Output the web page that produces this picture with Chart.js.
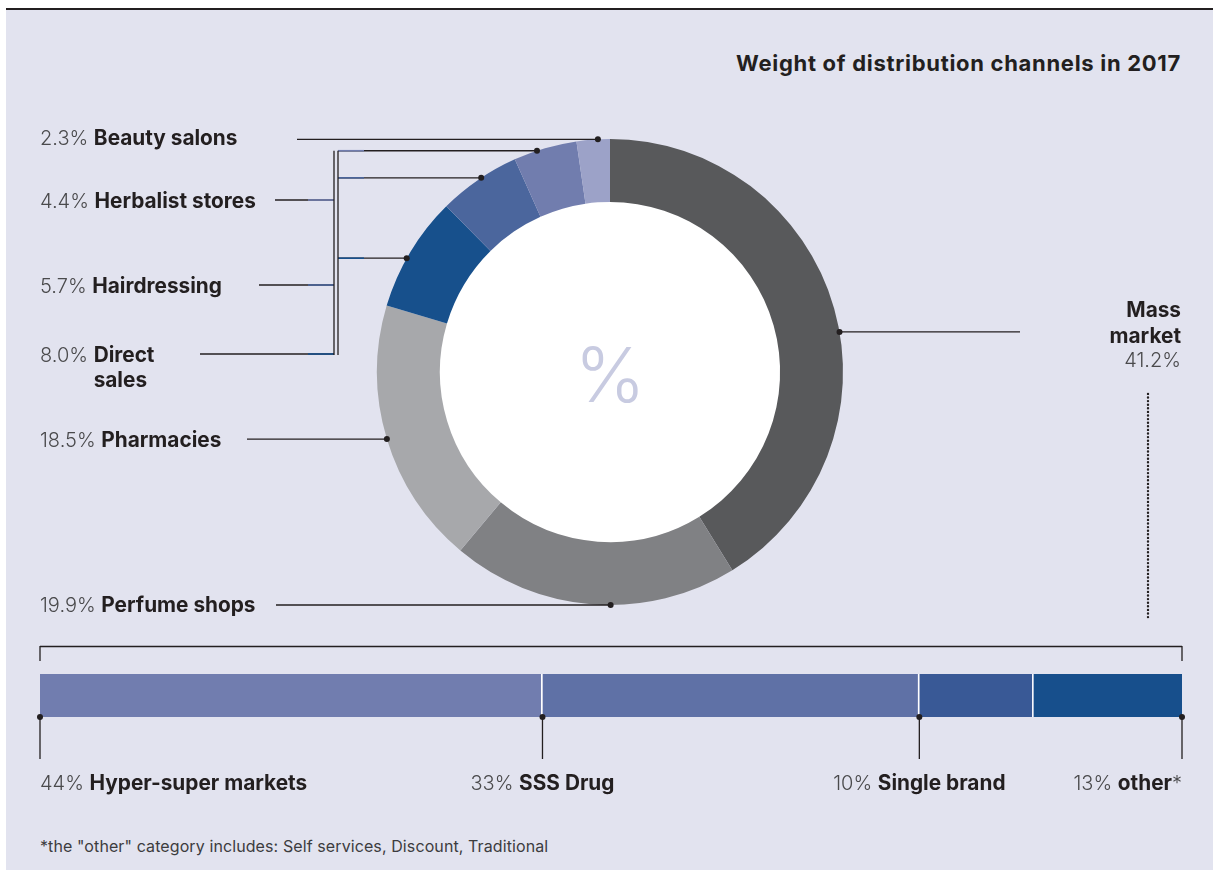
<!DOCTYPE html>
<html>
<head>
<meta charset="utf-8">
<script src="https://cdn.jsdelivr.net/npm/chart.js@4.4.1/dist/chart.umd.min.js"></script>
<style>
  body { margin: 0; background: #fff; width: 1213px; height: 870px; overflow: hidden; }
  #panel { position: absolute; left: 6px; top: 10px; width: 1207px; height: 860px; background: #e2e3ef; }
  #rule { position: absolute; left: 6px; top: 8px; width: 1207px; height: 2px; background: #231f20; }
  #title { position: absolute; right: 32px; top: 50px; line-height: 24px; font: 700 22px Inter, sans-serif; letter-spacing: 0.7px; color: #231f20; }
  #note { position: absolute; left: 40px; top: 836px; line-height: 20px; font: 400 16px Inter, sans-serif; letter-spacing: 0.1px; color: #3c3c3e; }
  #donut { position: absolute; left: 0; top: 0; }
  #bar { position: absolute; left: 0; top: 630px; }
</style>
</head>
<body>
<div id="panel"></div>
<div id="rule"></div>
<div id="title">Weight of distribution channels in 2017</div>
<canvas id="donut" width="1213" height="630"></canvas>
<canvas id="bar" width="1213" height="180"></canvas>
<div id="note">*the "other" category includes: Self services, Discount, Traditional</div>

<script>
// channel weights, clockwise from 12 o'clock
const channels = ['Mass market', 'Perfume shops', 'Pharmacies', 'Direct sales', 'Hairdressing', 'Herbalist stores', 'Beauty salons'];
const channelShares = [41.2, 19.9, 18.5, 8.0, 5.7, 4.4, 2.3];
const channelColors = ['#58595b', '#808184', '#a7a8ab', '#17508c', '#4b669d', '#717dae', '#9ca2c8'];

// split of the mass market channel
const outlets = ['Hyper-super markets', 'SSS Drug', 'Single brand', 'other'];
const outletShares = [44, 33, 10, 13];
const outletColors = ['#717daf', '#5f71a6', '#395996', '#174f8c'];

const ink = '#231f20';
const numFont = '300 20px Inter, sans-serif';
const nameFont = '700 20.8px Inter, sans-serif';

// where each leader leaves its slice (fraction of the arc) and where its label sits
const callouts = [
  { at: 0.54, lineTo: 1020 },
  { at: 0.44, lineFrom: 276, labelY: 604 },
  { at: 0.50, lineFrom: 247, labelY: 439 },
  { at: 0.44, lineFrom: 200, labelY: 354, bus: true, wrap: true },
  { at: 0.54, lineFrom: 259, labelY: 285, bus: true },
  { at: 0.37, lineFrom: 275, labelY: 200, bus: true },
  { at: 0.64, lineFrom: 297, labelY: 137 }
];
const busX = [334, 338];

// draws a run of [text, font, color] pieces on one line, returns start x of each piece
function drawRuns(ctx, runs, x, y, align) {
  const widths = runs.map(r => { ctx.font = r[1]; return ctx.measureText(r[0]).width; });
  const total = widths.reduce((a, b) => a + b, 0);
  let cx = align === 'right' ? x - total : align === 'center' ? x - total / 2 : x;
  const starts = [];
  ctx.textAlign = 'left';
  ctx.textBaseline = 'middle';
  runs.forEach((r, i) => {
    ctx.font = r[1];
    ctx.fillStyle = r[2];
    ctx.fillText(r[0], cx, y + 1.5);
    starts.push(cx);
    cx += widths[i];
  });
  return starts;
}

function line(ctx, x1, y1, x2, y2, color, width) {
  ctx.strokeStyle = color || ink;
  ctx.lineWidth = width || 1.3;
  ctx.beginPath();
  ctx.moveTo(x1, y1);
  ctx.lineTo(x2, y2);
  ctx.stroke();
}

function dot(ctx, x, y) {
  ctx.fillStyle = ink;
  ctx.beginPath();
  ctx.arc(x, y, 3, 0, Math.PI * 2);
  ctx.fill();
}

const calloutPlugin = {
  id: 'callouts',
  beforeDatasetsDraw(chart) {
    // white disc behind the ring
    const arc = chart.getDatasetMeta(0).data[0];
    const ctx = chart.ctx;
    ctx.save();
    ctx.fillStyle = '#ffffff';
    ctx.beginPath();
    ctx.arc(arc.x, arc.y, arc.innerRadius + 1, 0, Math.PI * 2);
    ctx.fill();
    ctx.restore();
  },
  afterDraw(chart) {
    const ctx = chart.ctx;
    const arcs = chart.getDatasetMeta(0).data;
    const busYs = [];
    ctx.save();

    // percent sign in the hole
    ctx.font = '300 76px Inter, sans-serif';
    ctx.fillStyle = '#c8cbe1';
    ctx.textAlign = 'center';
    ctx.textBaseline = 'middle';
    ctx.fillText('%', arcs[0].x, arcs[0].y + 7);

    arcs.forEach((arc, i) => {
      const c = callouts[i];
      const a = arc.startAngle + c.at * (arc.endAngle - arc.startAngle);
      const px = arc.x + arc.outerRadius * Math.cos(a);
      const py = arc.y + arc.outerRadius * Math.sin(a);
      const pct = channelShares[i].toFixed(1) + '%';

      if (c.lineTo) {
        // right-hand label for the largest slice
        line(ctx, px, py, c.lineTo, py);
        const right = 1181;
        const words = channels[i].split(' ');
        drawRuns(ctx, [[words[0], nameFont, ink]], right, py - 23, 'right');
        drawRuns(ctx, [[words[1], nameFont, ink]], right, py + 3, 'right');
        drawRuns(ctx, [[pct, numFont, '#4a4a4c']], right, py + 28, 'right');
        ctx.save();
        ctx.setLineDash([0, 3.6]);
        ctx.lineCap = 'round';
        line(ctx, 1148, py + 62, 1148, py + 286, ink, 2.4);
        ctx.restore();
      } else if (c.bus) {
        line(ctx, c.lineFrom, c.labelY, busX[0], c.labelY);
        line(ctx, busX[0] - 26, c.labelY, busX[0], c.labelY, channelColors[i], 1.6);
        line(ctx, busX[1], py, px, py);
        line(ctx, busX[1], py, busX[1] + 26, py, channelColors[i], 1.6);
        busYs.push(py, c.labelY);
      } else {
        line(ctx, c.lineFrom, py, px, py);
      }
      dot(ctx, px, py);

      if (!c.lineTo) {
        if (c.wrap) {
          const [first, second] = channels[i].split(' ');
          const starts = drawRuns(ctx, [[pct + ' ', numFont, '#4a4a4c'], [first, nameFont, ink]], 40, c.labelY, 'left');
          drawRuns(ctx, [[second, nameFont, ink]], starts[1], c.labelY + 25, 'left');
        } else {
          drawRuns(ctx, [[pct + ' ', numFont, '#4a4a4c'], [channels[i], nameFont, ink]], 40, c.labelY, 'left');
        }
      }
    });

    // the two vertical bus lines joining the small slices to their labels
    const top = Math.min(...busYs), bottom = Math.max(...busYs);
    busX.forEach(x => line(ctx, x, top, x, bottom + 1));
    ctx.restore();
  }
};

new Chart(document.getElementById('donut'), {
  type: 'doughnut',
  data: {
    labels: channels,
    datasets: [{
      data: channelShares,
      backgroundColor: channelColors,
      borderWidth: 0,
      hoverOffset: 0
    }]
  },
  options: {
    responsive: false,
    animation: false,
    cutout: '73%',
    layout: { padding: { left: 377, right: 370, top: 139, bottom: 25 } },
    plugins: { legend: { display: false }, tooltip: { enabled: false } }
  },
  plugins: [calloutPlugin]
});

const barTicksPlugin = {
  id: 'barTicks',
  afterDraw(chart) {
    const ctx = chart.ctx;
    const bars = outletShares.map((v, i) => chart.getDatasetMeta(i).data[0].getProps(['x', 'y', 'base', 'height'], true));
    const last = bars.length - 1;
    const left = bars[0].base;
    const right = bars[last].x;
    const top = bars[0].y - bars[0].height / 2;
    const bottom = bars[0].y + bars[0].height / 2;
    ctx.save();

    // bracket over the whole bar
    line(ctx, left, top - 27.5, right, top - 27.5);
    line(ctx, left, top - 28, left, top - 13);
    line(ctx, right, top - 28, right, top - 13);

    // ticks at the start of each segment, the last one hangs from the bar's end
    bars.forEach((b, i) => {
      const x = i === last ? right : b.base;
      line(ctx, x, bottom, x, bottom + 42);
      dot(ctx, x, bottom);
      const runs = [[outletShares[i] + '% ', numFont, '#4a4a4c'], [outlets[i], nameFont, ink]];
      if (i === last) {
        runs.push(['*', numFont, '#4a4a4c']);
        drawRuns(ctx, runs, x, bottom + 65, 'right');
      } else {
        drawRuns(ctx, runs, x, bottom + 65, i === 0 ? 'left' : 'center');
      }
    });
    ctx.restore();
  }
};

new Chart(document.getElementById('bar'), {
  type: 'bar',
  data: {
    labels: ['Mass market'],
    datasets: outlets.map((name, i) => ({
      label: name,
      data: [outletShares[i]],
      backgroundColor: outletColors[i],
      borderColor: '#ffffff',
      borderWidth: i < outlets.length - 1 ? { top: 0, right: 1.5, bottom: 0, left: 0 } : 0,
      borderSkipped: false,
      barPercentage: 1,
      categoryPercentage: 1,
      inflateAmount: 0
    }))
  },
  options: {
    indexAxis: 'y',
    responsive: false,
    animation: false,
    layout: { padding: { left: 40, right: 31, top: 44, bottom: 93 } },
    scales: {
      x: { stacked: true, min: 0, max: 100, display: false },
      y: { stacked: true, display: false }
    },
    plugins: { legend: { display: false }, tooltip: { enabled: false } }
  },
  plugins: [barTicksPlugin]
});
</script>
</body>
</html>
